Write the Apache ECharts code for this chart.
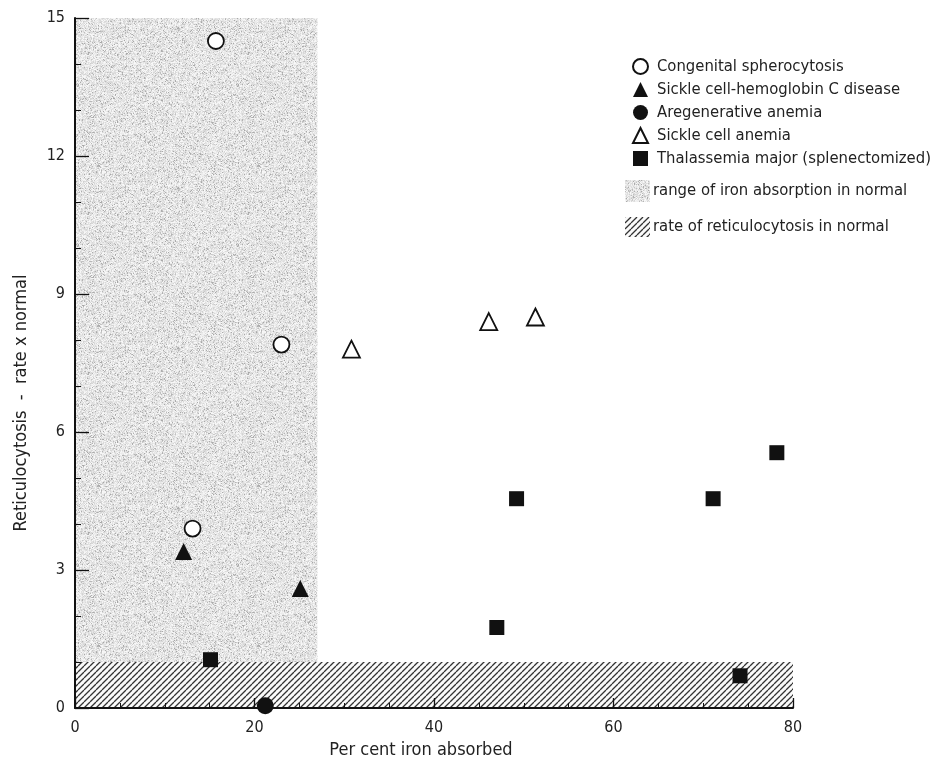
<!DOCTYPE html>
<html><head><meta charset="utf-8">
<script src="https://cdn.jsdelivr.net/npm/echarts@6/dist/echarts.min.js"></script>
<style>html,body{margin:0;padding:0;background:#fff}#c{width:938px;height:761px}</style>
</head><body><div id="c"></div>
<script>
// ---- data ----
const seriesNames = ['Congenital spherocytosis','Sickle cell-hemoglobin C disease','Aregenerative anemia','Sickle cell anemia','Thalassemia major (splenectomized)'];
const spherocytosis = [[15.7,14.5],[23.0,7.9],[13.1,3.9]];
const sickleC = [[12.1,3.4],[25.1,2.6]];
const aregenerative = [[21.2,0.05]];
const sickleCell = [[30.8,7.8],[46.1,8.4],[51.3,8.5]];
const thalassemia = [[15.1,1.05],[47.0,1.75],[49.2,4.55],[71.1,4.55],[78.2,5.55],[74.1,0.7]];
const normalIronRange = [0, 27];   // x range (per cent)
const normalReticRange = [0, 1];   // y range (rate x normal)
const xTicks = [0, 20, 40, 60, 80];
const yTicks = [0, 3, 6, 9, 12, 15];
const areaNames = ['range of iron absorption in normal','rate of reticulocytosis in normal'];

// ---- textures ----
function mulberry32(a){return function(){a|=0;a=a+0x6D2B79F5|0;let t=Math.imul(a^a>>>15,1|a);t=t+Math.imul(t^t>>>7,61|t)^t;return((t^t>>>14)>>>0)/4294967296;}}
function noiseCanvas(){
  const n=160,c=document.createElement('canvas');c.width=c.height=n;
  const ctx=c.getContext('2d');const img=ctx.createImageData(n,n);
  const rnd=mulberry32(20240611);
  for(let i=0;i<n*n;i++){
    const r=rnd(),t=rnd();
    let v=r<0.13?(165+t*45):(212+t*38);
    img.data[i*4]=v;img.data[i*4+1]=v;img.data[i*4+2]=v;img.data[i*4+3]=255;
  }
  ctx.putImageData(img,0,0);return c;
}
function hatchCanvas(){
  const s=6,c=document.createElement('canvas');c.width=c.height=s;
  const ctx=c.getContext('2d');ctx.fillStyle='#fafafa';ctx.fillRect(0,0,s,s);
  ctx.strokeStyle='#333';ctx.lineWidth=1.3;ctx.beginPath();
  for(const k of [-s,0,s]){ctx.moveTo(k,s);ctx.lineTo(k+s,0);}
  ctx.stroke();return c;
}
const noise={image:noiseCanvas(),repeat:'repeat'};
const hatch={image:hatchCanvas(),repeat:'repeat'};

const FONT="'DejaVu Sans Condensed','Liberation Sans Narrow','DejaVu Sans',sans-serif";
const ink='#111';
const txt='#222';
const openStyle={color:'#fff',borderColor:ink,borderWidth:1.8,opacity:1};
const fillStyle={color:ink,borderColor:ink,borderWidth:0,opacity:1};

const chart=echarts.init(document.getElementById('c'),null,{renderer:'canvas'});
chart.setOption({
  animation:false,
  backgroundColor:'#fff',
  textStyle:{fontFamily:FONT},
  grid:{left:75,right:145,top:18,bottom:53,containLabel:false,outerBoundsMode:'none'},
  xAxis:{type:'value',min:xTicks[0],max:xTicks[xTicks.length-1],interval:20,z:10,
    name:'Per cent iron absorbed',nameLocation:'middle',nameGap:31,
    nameTextStyle:{fontSize:18,color:txt,fontFamily:FONT,padding:[0,26,0,0]},
    axisLine:{show:true,lineStyle:{color:ink,width:2}},
    axisTick:{show:true,inside:true,length:10,lineStyle:{color:ink,width:1.3}},
    minorTick:{show:true,splitNumber:4,length:5,lineStyle:{color:ink,width:1}},
    splitLine:{show:false},
    axisLabel:{fontSize:16,color:txt,margin:12,fontFamily:FONT}},
  yAxis:{type:'value',min:yTicks[0],max:yTicks[yTicks.length-1],interval:3,z:10,
    name:'Reticulocytosis  -  rate x normal',nameLocation:'middle',nameGap:45,
    nameTextStyle:{fontSize:18,color:txt,fontFamily:FONT,padding:[0,80,0,0]},
    axisLine:{show:true,lineStyle:{color:ink,width:2}},
    axisTick:{show:true,inside:true,length:14,lineStyle:{color:ink,width:1.3}},
    minorTick:{show:true,splitNumber:3,length:6,lineStyle:{color:ink,width:1}},
    splitLine:{show:false},
    axisLabel:{fontSize:16,color:txt,margin:10,fontFamily:FONT}},
  legend:{orient:'vertical',left:627,top:53,itemGap:6,itemWidth:15,itemHeight:15,
    data:seriesNames,selectedMode:false,
    textStyle:{fontSize:16.5,lineHeight:17,color:txt,fontFamily:FONT,padding:[0,0,0,4]}},
  graphic:[
    {type:'rect',left:625,top:180,shape:{width:25,height:22},style:{fill:noise}},
    {type:'text',left:653,top:182,style:{text:areaNames[0],font:'16.5px '+FONT,fill:txt}},
    {type:'rect',left:625,top:217,shape:{width:25,height:20},style:{fill:hatch}},
    {type:'text',left:653,top:218,style:{text:areaNames[1],font:'16.5px '+FONT,fill:txt}}
  ],
  series:[
    {name:areaNames[0],type:'scatter',data:[],z:1,silent:true,
      markArea:{silent:true,label:{show:false},itemStyle:{color:noise,opacity:1,borderWidth:0},
        data:[[{xAxis:normalIronRange[0],yAxis:0},{xAxis:normalIronRange[1],yAxis:yTicks[yTicks.length-1]}]]}},
    {name:areaNames[1],type:'scatter',data:[],z:2,silent:true,
      markArea:{silent:true,label:{show:false},itemStyle:{color:hatch,opacity:1,borderWidth:0},
        data:[[{xAxis:xTicks[0],yAxis:normalReticRange[0]},{xAxis:xTicks[xTicks.length-1],yAxis:normalReticRange[1]}]]}},
    {name:seriesNames[0],type:'scatter',z:5,symbol:'circle',symbolSize:16,itemStyle:openStyle,data:spherocytosis},
    {name:seriesNames[1],type:'scatter',z:5,symbol:'triangle',symbolSize:17,itemStyle:fillStyle,data:sickleC},
    {name:seriesNames[2],type:'scatter',z:5,symbol:'circle',symbolSize:17,itemStyle:fillStyle,data:aregenerative},
    {name:seriesNames[3],type:'scatter',z:5,symbol:'triangle',symbolSize:17,itemStyle:openStyle,data:sickleCell},
    {name:seriesNames[4],type:'scatter',z:5,symbol:'rect',symbolSize:15,itemStyle:fillStyle,data:thalassemia}
  ]
});
</script></body></html>
